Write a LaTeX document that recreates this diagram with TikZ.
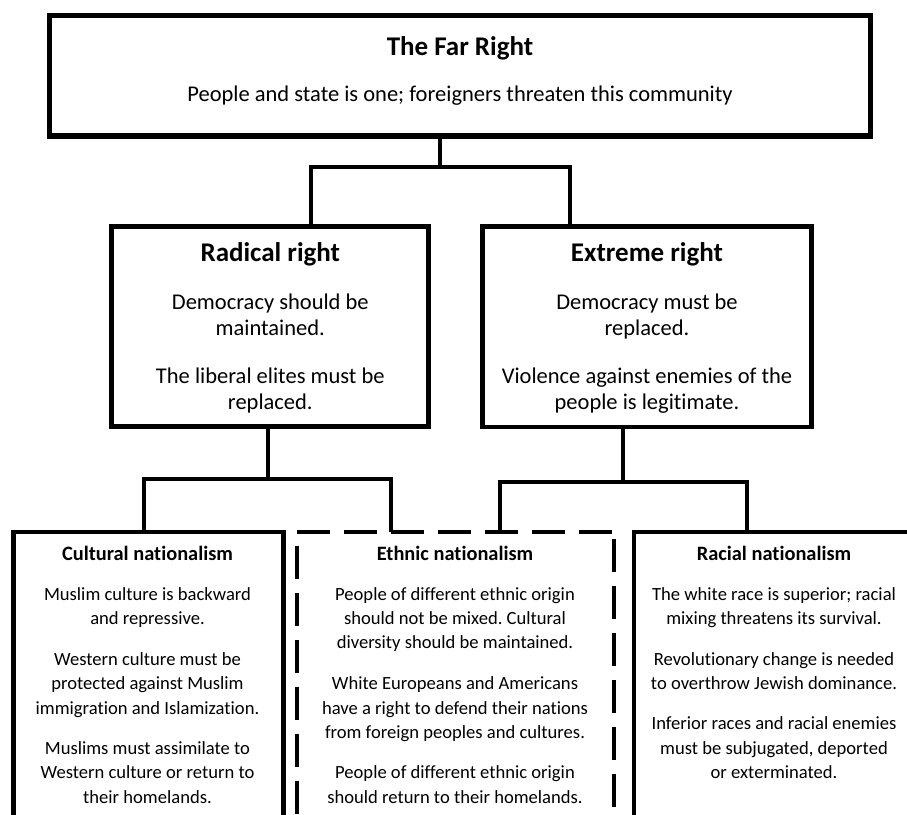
\documentclass[tikz,border=0pt]{standalone}
\usepackage{fontspec}
\setmainfont{Carlito}[Ligatures={NoCommon}]
\frenchspacing
\begin{document}
\begin{tikzpicture}[x=1pt,y=-1pt,
  box/.style={draw, rectangle, inner sep=0pt, line width=4.7pt},
  conn/.style={line width=3.8pt, line join=miter},
  ln/.style={anchor=base, inner sep=0pt},
  tbig/.style={ln, font=\fontsize{27}{32}\selectfont\bfseries},
  bbig/.style={ln, font=\fontsize{22.5}{27}\selectfont},
  tsm/.style={ln, font=\fontsize{20.4}{24}\selectfont\bfseries},
  bsm/.style={ln, font=\fontsize{18.6}{24}\selectfont},
  dashside/.style={line width=4pt, dash pattern=on 33pt off 14pt}
]
\useasboundingbox (0,0) rectangle (907,814);
\clip (0,0) rectangle (907,814);

% boxes
\node[box, line width=5.5pt, minimum width=821pt, minimum height=120.5pt] (top) at (460,75.75) {};
\node[box, minimum width=316.8pt, minimum height=200pt] (rad) at (270.1,326.8) {};
\node[box, minimum width=329.3pt, minimum height=200.5pt] (ext) at (647.15,326.75) {};
\node[box, line width=4.4pt, minimum width=270pt, minimum height=308.2pt] (cul) at (148.3,685.9) {};
\node[rectangle, inner sep=0pt, minimum width=317pt, minimum height=308.2pt] (eth) at (455.2,685.9) {};
\node[box, line width=4.4pt, minimum width=280pt, minimum height=308.2pt] (rac) at (774,685.9) {};

% dashed box sides
\draw[dashside] (eth.north west) -- (eth.north east);
\draw[dashside, dash phase=33pt] (eth.north west) -- (eth.south west);
\draw[dashside, dash phase=40pt] (eth.north east) -- (eth.south east);

% connectors
\coordinate (j0) at (440,167);
\coordinate (j0l) at (311,167);
\coordinate (j0r) at (570,167);
\draw[conn] (top.south -| j0) -- (j0);
\draw[conn] (rad.north -| j0l) -- (j0l) -- (j0r) -- (ext.north -| j0r);

\coordinate (j1) at (268.3,479.3);
\coordinate (j1l) at (144.3,479.3);
\coordinate (j1r) at (391,479.3);
\draw[conn] (rad.south -| j1) -- (j1);
\draw[conn] (cul.north -| j1l) -- (j1l) -- (j1r) -- (eth.north -| j1r);

\coordinate (j2) at (623,482);
\coordinate (j2l) at (500,482);
\coordinate (j2r) at (747,482);
\draw[conn] (ext.south -| j2) -- (j2);
\draw[conn] (eth.north -| j2l) -- (j2l) -- (j2r) -- (rac.north -| j2r);

% top text
\node[tbig] (top-t) at (460,55) {The Far Right};
\node[bbig] (top-s) at (460,101) {People and state is one; foreigners threaten this community};

% radical right
\node[tbig] (rad-t) at (270.3,261) {Radical right};
\node[bbig] (rad-1) at (270.3,309) {Democracy should be};
\node[bbig] (rad-2) at (270.3,335.5) {maintained.};
\node[bbig] (rad-3) at (270.3,383) {The liberal elites must be};
\node[bbig] (rad-4) at (270.3,409.5) {replaced.};

% extreme right
\node[tbig] (ext-t) at (647,261) {Extreme right};
\node[bbig] (ext-1) at (647,309) {Democracy must be};
\node[bbig] (ext-2) at (647,335.5) {replaced.};
\node[bbig] (ext-3) at (647,383) {Violence against enemies of the};
\node[bbig] (ext-4) at (647,409.5) {people is legitimate.};

% cultural nationalism
\node[tsm] (cul-t) at (147.5,560) {Cultural nationalism};
\node[bsm] (cul-1) at (147.5,600) {Muslim culture is backward};
\node[bsm] (cul-2) at (147.5,624.4) {and repressive.};
\node[bsm] (cul-3) at (147.5,665.4) {Western culture must be};
\node[bsm] (cul-4) at (147.5,689.8) {protected against Muslim};
\node[bsm] (cul-5) at (147.5,714.2) {immigration and Islamization.};
\node[bsm] (cul-6) at (147.5,754.2) {Muslims must assimilate to};
\node[bsm] (cul-7) at (147.5,778.6) {Western culture or return to};
\node[bsm] (cul-8) at (147.5,803) {their homelands.};

% ethnic nationalism
\node[tsm] (eth-t) at (455,560) {Ethnic nationalism};
\node[bsm] (eth-1) at (455,600) {People of different ethnic origin};
\node[bsm] (eth-2) at (455,624.4) {should not be mixed. Cultural};
\node[bsm] (eth-3) at (455,648.8) {diversity should be maintained.};
\node[bsm] (eth-4) at (455,689.8) {White Europeans and Americans};
\node[bsm] (eth-5) at (455,714.2) {have a right to defend their nations};
\node[bsm] (eth-6) at (455,738.6) {from foreign peoples and cultures.};
\node[bsm] (eth-7) at (455,778.6) {People of different ethnic origin};
\node[bsm] (eth-8) at (455,803) {should return to their homelands.};

% racial nationalism
\node[tsm] (rac-t) at (774,560) {Racial nationalism};
\node[bsm] (rac-1) at (774,600) {The white race is superior; racial};
\node[bsm] (rac-2) at (774,624.4) {mixing threatens its survival.};
\node[bsm] (rac-3) at (774,665.4) {Revolutionary change is needed};
\node[bsm] (rac-4) at (774,689.8) {to overthrow Jewish dominance.};
\node[bsm] (rac-5) at (774,729.8) {Inferior races and racial enemies};
\node[bsm] (rac-6) at (774,754.2) {must be subjugated, deported};
\node[bsm] (rac-7) at (774,778.6) {or exterminated.};
\end{tikzpicture}
\end{document}
